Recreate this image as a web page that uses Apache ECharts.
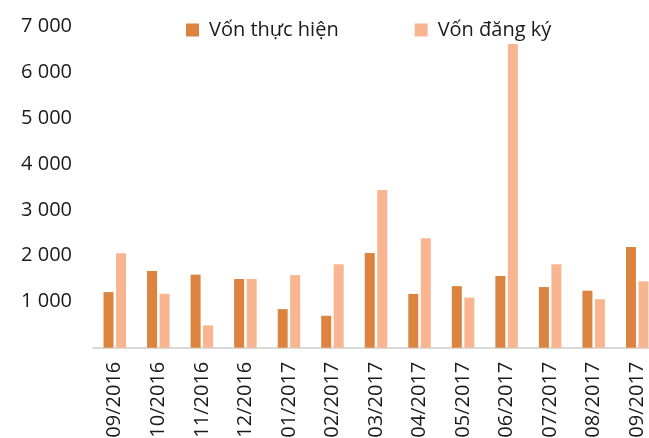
<!DOCTYPE html>
<html><head><meta charset="utf-8">
<script src="https://cdn.jsdelivr.net/npm/echarts@6/dist/echarts.min.js"></script>
<style>html,body{margin:0;padding:0;background:#fff}#c{width:649px;height:438px}</style>
</head><body><div id="c"></div>
<script>
const categories = ['09/2016','10/2016','11/2016','12/2016','01/2017','02/2017','03/2017','04/2017','05/2017','06/2017','07/2017','08/2017','09/2017'];
const vonThucHien = [1210, 1670, 1590, 1495, 840, 695, 2060, 1170, 1340, 1560, 1320, 1240, 2190];
const vonDangKy = [2055, 1175, 485, 1495, 1580, 1815, 3430, 2380, 1090, 6610, 1815, 1055, 1445];
const yTicks = [0, 1000, 2000, 3000, 4000, 5000, 6000, 7000];

const chart = echarts.init(document.getElementById('c'));
const font = 'Open Sans';
chart.setOption({
  animation: false,
  legend: {
    top: 15, left: 181, itemGap: 76, itemWidth: 13, itemHeight: 13, icon: 'rect',
    textStyle: { fontFamily: font, fontSize: 20, color: '#1a1a1a', padding: [0, 0, 0, 5] },
    data: ['Vốn thực hiện', 'Vốn đăng ký']
  },
  grid: { left: 93, width: 566, top: 26, bottom: 90.3, containLabel: false, outerBoundsMode: 'none' },
  xAxis: {
    type: 'category', data: categories,
    axisLine: { lineStyle: { color: '#d9d9d9', width: 2 } },
    axisTick: { show: false },
    axisLabel: { rotate: 90, margin: 14, fontFamily: font, fontSize: 20, color: '#1a1a1a' }
  },
  yAxis: {
    type: 'value', min: yTicks[0], max: yTicks[yTicks.length - 1], interval: 1000,
    axisLine: { show: false }, axisTick: { show: false }, splitLine: { show: false },
    axisLabel: {
      fontFamily: font, fontSize: 20, color: '#1a1a1a', margin: 21,
      formatter: v => v === 0 ? '' : String(v).replace(/\B(?=(\d{3})+(?!\d))/g, ' ')
    }
  },
  series: [
    { name: 'Vốn thực hiện', type: 'bar', data: vonThucHien, barWidth: 10, barGap: '25%',
      itemStyle: { color: '#DC843F' } },
    { name: 'Vốn đăng ký', type: 'bar', data: vonDangKy, barWidth: 10,
      itemStyle: { color: '#F9B590' } }
  ]
});
</script></body></html>
